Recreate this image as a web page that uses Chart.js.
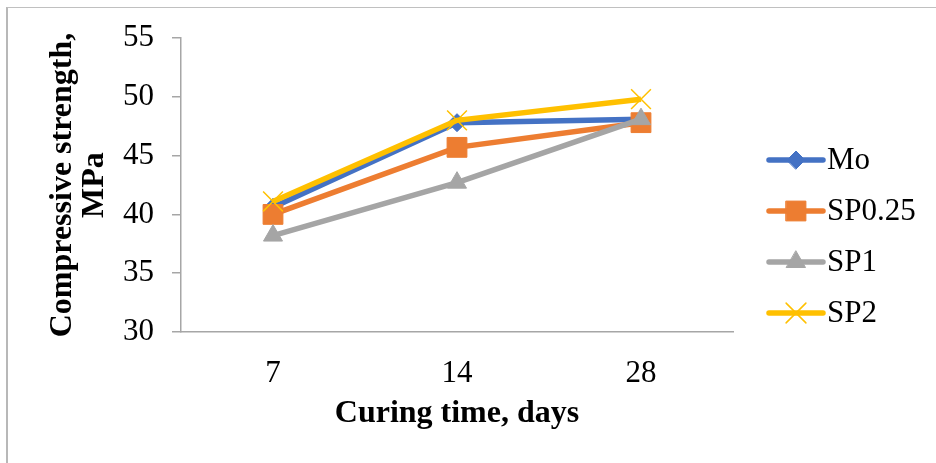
<!DOCTYPE html>
<html>
<head>
<meta charset="utf-8">
<script src="https://cdn.jsdelivr.net/npm/chart.js"></script>
<style>
  body { margin: 0; background: #fff; overflow: hidden; }
  #frame { position: absolute; left: 6px; top: 7px; width: 1000px; height: 1000px;
           border-left: 2px solid #b8b8b8; border-top: 1px solid #c0c0c0; }
  #myChart { position: absolute; left: 0; top: 0; }
</style>
</head>
<body>
<div id="frame"></div>
<canvas id="myChart" width="936" height="463"></canvas>
<script>
// values
const days = ['7', '14', '28'];
const mo = [40.6, 47.8, 48.1];
const sp025 = [40.0, 45.7, 47.8];
const sp1 = [38.2, 42.7, 48.1];
const sp2 = [41.1, 48.0, 49.8];

const seriesNames = ['Mo', 'SP0.25', 'SP1', 'SP2'];
const seriesColors = ['#4472c4', '#ed7d31', '#a5a5a5', '#ffc000'];

const FONT = "'Liberation Serif', 'Times New Roman', serif";
const AXIS_GRAY = '#a6a6a6';

function makeSet(i, data, style, radius) {
  return {
    label: seriesNames[i],
    data: data,
    borderColor: seriesColors[i],
    backgroundColor: seriesColors[i],
    borderWidth: 5.5,
    pointStyle: style,
    pointRadius: radius,
    pointHoverRadius: radius,
    pointBorderWidth: style === 'crossRot' ? 1.5 : 1,
    pointBackgroundColor: seriesColors[i],
    pointBorderColor: seriesColors[i],
    tension: 0,
    clip: false,
    order: 4 - i  // excel draws later series on top
  };
}

// legend drawn as line + marker, like the office one
const lineLegend = {
  id: 'lineLegend',
  afterDraw(chart) {
    const ctx = chart.ctx;
    const area = chart.chartArea;
    const x0 = area.right + 36;
    chart.data.datasets.forEach((ds, i) => {
      const y = area.top + 122 + i * 51;
      ctx.save();
      ctx.strokeStyle = ds.borderColor;
      ctx.lineWidth = 5.5;
      ctx.lineCap = 'round';
      ctx.beginPath();
      ctx.moveTo(x0, y);
      ctx.lineTo(x0 + 54, y);
      ctx.stroke();
      ctx.fillStyle = ds.pointBackgroundColor;
      ctx.strokeStyle = ds.pointBorderColor;
      ctx.lineWidth = ds.pointBorderWidth;
      Chart.helpers.drawPoint(ctx, {
        pointStyle: ds.pointStyle,
        radius: ds.pointRadius,
        rotation: 0,
        borderWidth: ds.pointBorderWidth
      }, x0 + 27, y);
      ctx.fillStyle = '#000';
      ctx.font = '31px ' + FONT;
      ctx.textBaseline = 'middle';
      ctx.textAlign = 'left';
      ctx.fillText(ds.label, x0 + 58, y + 1);
      ctx.restore();
    });
  }
};

new Chart(document.getElementById('myChart'), {
  type: 'line',
  data: {
    labels: days,
    datasets: [
      makeSet(0, mo, 'rectRot', 9),
      makeSet(1, sp025, 'rect', 14),
      makeSet(2, sp1, 'triangle', 11),
      makeSet(3, sp2, 'crossRot', 14)
    ]
  },
  options: {
    responsive: false,
    animation: false,
    events: [],
    layout: { padding: { left: 0, top: 38, right: 203, bottom: 0 } },
    plugins: {
      legend: { display: false },
      tooltip: { enabled: false }
    },
    scales: {
      x: {
        offset: true,
        grid: { display: false, drawTicks: false },
        border: { display: true, color: AXIS_GRAY, width: 1.5 },
        ticks: { color: '#000', font: { family: FONT, size: 31 }, padding: 23 },
        title: {
          display: true,
          text: 'Curing time, days',
          color: '#000',
          font: { family: FONT, size: 32, weight: 'bold' },
          padding: { top: 0, bottom: 30 }
        },
        afterFit(scale) { scale.height = 131; }
      },
      y: {
        min: 30,
        max: 55,
        ticks: { stepSize: 5, color: '#000', font: { family: FONT, size: 31 }, padding: 18 },
        grid: { display: true, drawOnChartArea: false, drawTicks: true, tickLength: 9, color: AXIS_GRAY, lineWidth: 1.5 },
        border: { display: true, color: AXIS_GRAY, width: 1.5 },
        title: {
          display: true,
          text: ['Compressive strength,', 'MPa'],
          color: '#000',
          font: { family: FONT, size: 32, weight: 'bold', lineHeight: 1.0 },
          padding: { top: 47, bottom: 0 }
        },
        afterFit(scale) { scale.width = 181; }
      }
    }
  },
  plugins: [lineLegend]
});
</script>
</body>
</html>
